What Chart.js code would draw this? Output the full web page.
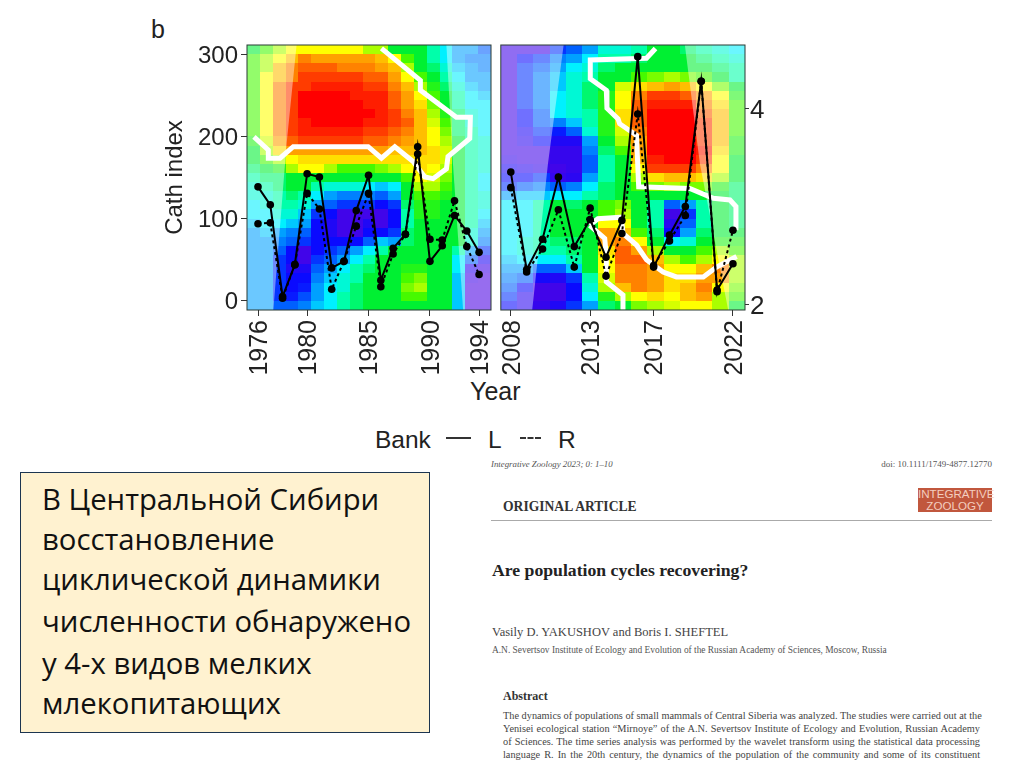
<!DOCTYPE html>
<html lang="ru"><head><meta charset="utf-8">
<script src="https://cdn.jsdelivr.net/npm/chart.js@4"></script>
<style>
html,body{margin:0;padding:0;background:#fff;width:1024px;height:767px;overflow:hidden}
canvas{position:absolute;filter:blur(.7px)}
.t{position:absolute;white-space:nowrap;line-height:1;color:#222}
.s{font-family:"Liberation Sans",sans-serif}
.r{font-family:"Liberation Serif",serif}
#box{position:absolute;left:20px;top:472px;width:408px;height:259px;background:#fff2d0;border:1px solid #1c3550}
.ru{position:absolute;left:42px;font:29.3px "Open Sans",sans-serif;color:#111;white-space:nowrap;line-height:1}
.abs{position:absolute;left:503px;width:477px;font:10.3px "Liberation Serif",serif;color:#444;text-align:justify;text-align-last:justify;line-height:1;white-space:nowrap}
</style></head><body>
<div class="t s" style="left:151px;top:17px;font-size:25px">b</div>
<div class="t s" style="left:470px;top:379px;font-size:25px">Year</div>
<div class="t s" style="left:375px;top:428px;font-size:24.5px">Bank</div>
<div style="position:absolute;left:446px;top:437px;width:25px;border-top:2px solid #333"></div>
<div class="t s" style="left:488px;top:428px;font-size:24.5px">L</div>
<div style="position:absolute;left:520px;top:437px;width:21px;border-top:2px dashed #333"></div>
<div class="t s" style="left:558px;top:428px;font-size:24.5px">R</div>
<canvas id="c1" width="365" height="350" style="left:130px;top:30px"></canvas>
<canvas id="c2" width="290" height="350" style="left:497px;top:30px"></canvas>
<div id="box"></div>
<div class="ru" style="top:485px">В Центральной Сибири</div>
<div class="ru" style="top:525px">восстановление</div>
<div class="ru" style="top:565px">циклической динамики</div>
<div class="ru" style="top:607px">численности обнаружено</div>
<div class="ru" style="top:649px">у 4-х видов мелких</div>
<div class="ru" style="top:689px">млекопитающих</div>
<div class="t r" style="left:491px;top:460px;font-size:8.8px;font-style:italic;color:#555">Integrative Zoology 2023; 0: 1–10</div>
<div class="t r" style="right:32px;top:460px;font-size:9px;color:#555">doi: 10.1111/1749-4877.12770</div>
<div class="t r" style="left:503px;top:500px;font-size:13.6px;font-weight:bold;color:#333">ORIGINAL ARTICLE</div>
<div style="position:absolute;left:918px;top:488px;width:74px;height:24px;background:#c1573d;color:#f3cdbf;font:11.6px/11.5px 'Liberation Sans',sans-serif;text-align:center">INTEGRATIVE<br>ZOOLOGY</div>
<div style="position:absolute;left:491px;top:520px;width:501px;border-top:1px solid #aaa"></div>
<div class="t r" style="left:492px;top:562px;font-size:17.7px;font-weight:bold;color:#222">Are population cycles recovering?</div>
<div class="t r" style="left:492px;top:626px;font-size:12.5px;color:#444">Vasily D. YAKUSHOV and Boris I. SHEFTEL</div>
<div class="t r" style="left:492px;top:646px;font-size:9.4px;color:#555">A.N. Severtsov Institute of Ecology and Evolution of the Russian Academy of Sciences, Moscow, Russia</div>
<div class="t r" style="left:503px;top:690px;font-size:12px;font-weight:bold;color:#333">Abstract</div>
<div class="abs" style="top:711px">The dynamics of populations of small mammals of Central Siberia was analyzed. The studies were carried out at the</div>
<div class="abs" style="top:724px">Yenisei ecological station “Mirnoye” of the A.N. Severtsov Institute of Ecology and Evolution, Russian Academy</div>
<div class="abs" style="top:737px">of Sciences. The time series analysis was performed by the wavelet transform using the statistical data processing</div>
<div class="abs" style="top:750px">language R. In the 20th century, the dynamics of the population of the community and some of its constituent</div>
<script>
const yearsA=[1976,1977,1978,1979,1980,1981,1982,1983,1984,1985,1986,1987,1988,1989,1990,1991,1992,1993,1994];
const bankLA=[139,117,5,44,155,151,40,48,110,153,25,64,81,188,48,67,104,85,59];
const bankRA=[94,95,3,44,131,112,14,48,91,131,17,57,81,179,75,74,122,66,32];
const yearsB=[2008,2009,2010,2011,2012,2013,2014,2015,2016,2017,2018,2019,2020,2021,2022];
const bankLB=[157,38,75,151,66,99,53,98,298,41,80,115,268,13,45];
const bankRB=[138,35,63,111,41,113,30,82,228,43,73,104,268,11,86];
const xTicksA=[1976,1980,1985,1990,1994];
const xTicksB=[2008,2013,2017,2022];
const yTicks=[0,100,200,300];
const periodTicks=[2,4];
const contourA=[[[1975.67,200],[1976.84,184],[1976.84,174],[1977.79,174],[1978.87,188],[1984.97,188],[1986.05,174],[1987.14,188],[1988.63,170],[1989.58,151],[1990.25,149],[1991.34,161],[1991.47,176],[1993.24,198],[1993.29,224],[1992.15,224],[1989.22,257],[1989.22,269],[1986.05,308]]];
const contourB=[
[[2017.12,308],[2016.55,296],[2013.01,294],[2013.01,271],[2014.02,257],[2014.06,235],[2014.76,222],[2014.86,216],[2015.92,202],[2016.06,139],[2019.28,137],[2020.76,125],[2021.81,123],[2022.19,115],[2022.19,86]],
[[2012.97,92],[2013.49,100],[2014.97,102],[2015.07,82],[2015.92,68],[2016.55,50],[2017.6,35],[2018.44,29],[2020.13,29],[2020.97,41],[2022.23,54]],
[[2012.97,92],[2013.92,76],[2014.02,54],[2014.02,23],[2015.07,7],[2015.07,-11]]];
const coiA=[[[1975.1,312.2],[1979.14,312.2],[1978.33,192],[1977.25,-11.4],[1975.1,-11.4]],[[1991.34,312.2],[1991.83,176],[1992.7,-11.4],[1995,-11.4],[1995,312.2]]];
const coiB=[[[2007.37,312.2],[2011.33,312.2],[2010.34,167],[2009.35,-11.4],[2007.37,-11.4]],[[2018.97,312.2],[2019.92,167],[2021.7,-11.4],[2022.76,-11.4],[2022.76,312.2]]];
const heatA=[
[6,7,8,9,9,9,9,9,9,8,8,6,6,6,5,4,3,3,2],
[7,8,9,10,11,10.5,10.5,10.5,10.5,10.5,10,9,7,6,5,4,3,2.5,2.5],
[7,8,10,11,11.5,11.5,11.5,11,11,11,10.5,10,8,6,5.5,4.5,3.5,3,2.5],
[7,9,10,11,12,12,12,12,12,11.5,11.5,10.5,9,7,6,5,4,3,3],
[7,9,11,12,12,12.5,12.5,12.5,12.5,12,12,11,10,8,6.5,5.5,4.5,3.5,3],
[7,9,11,12,13,13,13,13,12.5,12.5,12.5,11.5,10.5,9,7,6,5,4,3.5],
[7,9,11,12,13,13,13,13,13,12.5,12.5,11.5,10.5,9.5,7.5,6,5,4,4],
[7,9,11,12,13,13,13,13,13,13,12.5,12,11,10,8,6.5,5.5,4.5,4],
[7,9,11,12,12.5,13,13,13,13,12.5,12.5,12,11.5,10,8.5,7,5.5,4.5,4],
[7,9,11,12,12.5,12.5,12.5,12.5,12.5,12,12,11.5,11,10,9,7.5,5.5,5,4],
[6.5,8.5,10.5,11.5,12,12,12,12,12,11.5,11.5,11,10.5,10,9,8,6,5,4.5],
[6,8,9.5,10.5,10.5,10.5,10.5,10.5,10.5,10.5,10.5,10,10,10,9.5,8.5,6,5,4.5],
[6,7,8,9,9.5,9.5,9.5,9.5,9.5,9.5,9.5,9.5,9.5,9.5,9.5,8.5,6,5,4.5],
[5.5,6,6.5,8,9,9,8,7,7,7,7.5,8,9,9.5,9,8,6,5,4.5],
[5,5.5,5.5,6,6,6,6,6,6,6,6,6,7,9,8.5,7.5,6,5,4],
[4.5,5,5.5,6,6,5,4.5,4.5,4.5,4,3.5,4,6,8,8,7,6,5,4],
[4.5,4.5,5,5.5,5,4,3,2.5,2.5,2.5,2,3,6,7,7,6.5,6,5,4.5],
[4,4.5,5,5,4.5,3,2,1.5,1.5,1.5,1,1.5,5.5,6.5,6.5,6,6,5,4.5],
[4,4,4.5,4.5,3.5,1.5,1,.5,.5,.5,.5,1,5,6.5,6.5,6,6,5,4],
[3.5,4,4,3.5,3,1,.8,.5,.5,.8,.5,1,5,6,6,6,6,5,3.5],
[3,3.5,3,2.5,2,1,.8,.5,.5,1,1,1.5,5.5,6,6,6,6,4.5,3],
[3,3,2.5,2,1.5,1,1,1,1,2,3.5,3,5.5,6,6,6,6,4.5,2.5],
[3,3,2,1,.5,1,1.5,2,3,4,5,6,6,6,6,6,5,3,1.5],
[3,3,1.5,1,.5,1.5,2,3,4,5,6,6,6,6,6,6,4,2,.8],
[3,3,1.5,.8,.8,2,3,4,5,5.5,6,6,6.5,6.5,6,6,4,.7,.5],
[3,3,1.5,1,1,2.5,3.5,4.5,5,6,6,6,7,7.5,6,6,3.5,.5,.4],
[3,3,1.5,1,1.2,3,4,4.5,5.5,6,6,6,7.5,8,6,6,3.5,.4,.4],
[3,3,1.5,1.2,1.8,3,4,5,5.5,6,6,6,7,7,6,6,3.5,.4,.4],
[3,3,2,2,2.5,3.5,4,5,5.5,6,6,6,6,6,6,6,3.5,.4,.4]];
const heatB=[
[.5,.5,.5,1.5,2,3,4.5,4.5,5,6,6,5.5,5,4.5,4],
[.5,1,1.5,2.5,3,4,5,5,5.5,6,6,6,5.5,5,4.5],
[.5,1.5,2,3,4,4.5,5.5,6,6,6,6,6,6,5.5,5],
[.5,1.5,2.5,3.5,4.5,5,6,6,7,7.5,8,7.5,7,6,5],
[.5,1.5,2.5,3.5,4.5,5.5,6,8.5,9.5,10,10.5,10,9,7.5,6],
[.5,1.5,2.5,4,4.5,5.5,6.5,9,11,12,12,11.5,10.5,9,6.5],
[.5,1.5,2.5,4,4.5,5.5,6.5,9,11.5,12.5,12.5,12.5,11,9.5,7],
[.5,1,2,4,4.5,5,6.5,9.5,11.5,13,13,13,11.5,10,7],
[.5,1,2,2.5,3.5,5,6.5,9.5,11.5,13,13,13,12,10,7],
[.5,.8,1.5,1.2,2,4.5,6.5,8.5,11,13,13,13,12,10,7],
[.5,.7,1,.8,.8,3,6,8,10.5,13,13,13,12,10,6.5],
[.5,.5,.5,.6,.6,2.5,5.5,7,10.5,13,13,13,12.5,9.5,6.5],
[.6,.5,.5,.6,.6,2,5,6,10,12.5,13,13,12,9,6],
[.8,.7,.6,.5,.6,2,5,6,9,12,12,12,11,9,6],
[1,1,1.5,.6,.7,3,5,6,8,9.5,10,10,9.5,8,6],
[1.5,2,2.5,2,2.5,4,5.5,6,7,7.5,8,7.5,7.5,6.5,5.5],
[3,3.5,3.5,4,4,5,5.5,6,6,6,6,6,6,6,5.5],
[4,4,5,6,5.5,6,7,7.5,6,5,2,3,5,6,5.5],
[4,4,5,6,6,6,7,8,6,5,.5,1.5,5,6,5.5],
[4,4,5,6,6,6,9,9,6,5,.7,2,5,6,5.5],
[4,4,5,6,6,6,10.5,10,7,5.5,1,3,5.5,6,6],
[4,4.5,5,5.5,5.5,6,10.5,11,9,6,4,4.5,6,6.5,6.5],
[4,4.5,5,5,5.5,6,9.5,11.5,10.5,8,6,6,7,8,7],
[3.5,4,4,4,5,6,9,11.5,11.5,10,8,7,8,9,8],
[3,3,2,2,3.5,6,9,11,11,10.5,9,9,10,11,8],
[2.5,2,.9,.8,1.5,5,8.5,11,11,10.5,9.5,9.5,10.5,10.5,8],
[2,1,.5,.5,1,4.5,8,10,11,10.5,9.5,10,11,9,7.5],
[1.5,.7,.5,.5,1,4,6.5,8,9,9.5,9,10,10.5,8,7],
[1,.7,.6,.8,1.5,3,5.5,6,7.5,8,8.5,9,9,8,6]];
const palette=[[120,0,210],[10,10,255],[0,96,255],[0,160,255],[0,240,255],[0,255,170],[0,240,50],[70,250,0],[170,255,0],[255,255,0],[255,190,0],[255,130,0],[255,60,0],[255,0,0]];

function colour(v){const i=Math.min(Math.floor(v),12),f=v-i,a=palette[i],b=palette[i+1];
 return `rgb(${a.map((c,k)=>Math.round(c+(b[k]-c)*f)).join(',')})`;}
const heatPlugin={id:'heat',beforeDatasetsDraw(ch,_,o){
 const {ctx,scales:{x,y},chartArea:A}=ch,g=o.grid,nr=g.length,nc=g[0].length;
 ctx.save();ctx.beginPath();ctx.rect(A.left,A.top,A.width,A.height);ctx.clip();
 const dx=(x.max-x.min)/nc,dy=(y.max-y.min)/nr;
 g.forEach((row,r)=>row.forEach((v,c)=>{
  const x0=Math.round(x.getPixelForValue(x.min+c*dx)),x1=Math.round(x.getPixelForValue(x.min+(c+1)*dx));
  const y0=Math.round(y.getPixelForValue(y.max-r*dy)),y1=Math.round(y.getPixelForValue(y.max-(r+1)*dy));
  ctx.fillStyle=colour(v);ctx.fillRect(x0,y0,x1-x0,y1-y0);}));
 ctx.fillStyle='rgba(255,255,255,.42)';
 o.coi.forEach(p=>{ctx.beginPath();p.forEach(([a,b],i)=>{const X=x.getPixelForValue(a),Y=y.getPixelForValue(b);i?ctx.lineTo(X,Y):ctx.moveTo(X,Y);});ctx.closePath();ctx.fill();});
 ctx.restore();},
 afterDatasetsDraw(ch){const {ctx,chartArea:A}=ch;ctx.save();ctx.strokeStyle='#2a3a35';ctx.lineWidth=1;ctx.strokeRect(A.left,A.top,A.width,A.height);ctx.restore();}};
Chart.register(heatPlugin);
const font={family:'"Liberation Sans",sans-serif'};
function sets(years,L,R,contours){
 const p=(ys)=>years.map((x,i)=>({x,y:ys[i]}));
 const base={showLine:true,borderColor:'#000',backgroundColor:'#000',pointRadius:3.8,pointBorderWidth:0,pointHoverRadius:3.8,borderWidth:2,tension:0};
 return [{...base,label:'L',data:p(L),order:1},{...base,label:'R',data:p(R),borderDash:[3,3],order:2},
  ...contours.map((c,i)=>({label:'contour '+i,showLine:true,data:c.map(([x,y])=>({x,y})),borderColor:'#fff',borderWidth:5,pointRadius:0,order:3}))];
}
function xAxis(min,max,ticks){return {type:'linear',min,max,
 afterBuildTicks:s=>{s.ticks=ticks.map(value=>({value}));},
 afterFit:s=>{s.height=70;s.paddingLeft=0;s.paddingRight=0;},
 grid:{drawOnChartArea:false,drawTicks:true,tickLength:6,color:'#333'},border:{display:false},
 ticks:{minRotation:90,maxRotation:90,autoSkip:false,padding:4,labelOffset:2,color:'#222',font:{...font,size:25},callback:v=>String(v)}};}
new Chart(document.getElementById('c1'),{type:'scatter',
 data:{datasets:sets(yearsA,bankLA,bankRA,contourA)},
 options:{responsive:false,animation:false,devicePixelRatio:1,
  layout:{padding:{left:31,right:4,top:15,bottom:0}},
  plugins:{legend:{display:false},tooltip:{enabled:false},heat:{grid:heatA,coi:coiA}},
  scales:{x:xAxis(1975.104,1994.97,xTicksA),
   y:{min:-11.4,max:312.2,afterBuildTicks:s=>{s.ticks=yTicks.map(value=>({value}));},
    afterFit:s=>{s.width=86;s.paddingTop=0;s.paddingBottom=0;},
    title:{display:true,text:'Cath index',color:'#222',font:{...font,size:24},padding:0},
    grid:{drawOnChartArea:false,tickLength:6,color:'#333'},border:{display:false},
    ticks:{padding:3,labelOffset:1.5,color:'#222',font:{...font,size:24}}}}}});
new Chart(document.getElementById('c2'),{type:'scatter',
 data:{datasets:sets(yearsB,bankLB,bankRB,contourB)},
 options:{responsive:false,animation:false,devicePixelRatio:1,
  layout:{padding:{left:3,right:0,top:15,bottom:0}},
  plugins:{legend:{display:false},tooltip:{enabled:false},heat:{grid:heatB,coi:coiB}},
  scales:{x:xAxis(2007.37,2022.76,xTicksB),
   y:{min:-11.4,max:312.2,display:false,afterFit:s=>{s.width=0;}},
   y2:{position:'right',min:1.939,max:4.643,afterBuildTicks:s=>{s.ticks=periodTicks.map(value=>({value}));},
    afterFit:s=>{s.width=42;s.paddingTop=0;s.paddingBottom=0;},
    grid:{drawOnChartArea:false,tickLength:4,color:'#333'},border:{display:false},
    ticks:{padding:1,labelOffset:2.5,color:'#222',font:{...font,size:26}}}}}});
</script></body></html>
